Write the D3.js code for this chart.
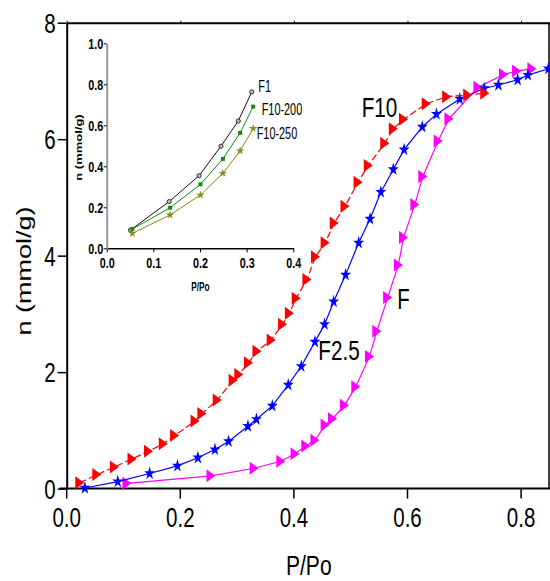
<!DOCTYPE html>
<html><head><meta charset="utf-8">
<script src="https://cdn.jsdelivr.net/npm/d3@7"></script>
<style>body{margin:0;background:#fff;} svg{display:block;}</style>
</head><body>
<svg id="c" width="550" height="581"></svg>
<script>
// ---- main chart data ----
const f10X  = [0.023,0.053,0.084,0.115,0.144,0.170,0.190,0.226,0.238,0.265,0.293,0.303,0.320,0.335,0.360,0.380,0.392,0.404,0.423,0.438,0.455,0.471,0.490,0.513,0.531,0.560,0.575,0.593,0.633,0.669,0.706,0.736];
const f10Y  = [0.10,0.24,0.37,0.51,0.64,0.77,0.91,1.16,1.29,1.52,1.86,1.96,2.16,2.36,2.55,2.82,3.01,3.27,3.59,3.98,4.22,4.56,4.85,5.26,5.55,5.93,6.18,6.34,6.61,6.73,6.76,6.79];
const f25X  = [0.032,0.090,0.146,0.195,0.231,0.261,0.285,0.319,0.334,0.362,0.390,0.413,0.437,0.454,0.470,0.491,0.514,0.534,0.553,0.575,0.594,0.626,0.651,0.692,0.735,0.760,0.794,0.812,0.848];
const f25Y  = [0.01,0.12,0.26,0.39,0.53,0.67,0.81,1.07,1.19,1.42,1.78,2.10,2.52,2.82,3.21,3.67,4.22,4.63,5.09,5.48,5.82,6.21,6.43,6.69,6.87,6.93,7.02,7.10,7.21];
const fX    = [0.106,0.254,0.330,0.377,0.402,0.421,0.437,0.455,0.468,0.489,0.509,0.533,0.546,0.565,0.584,0.593,0.613,0.627,0.654,0.673,0.724,0.769,0.792,0.819];
const fY    = [0.09,0.22,0.35,0.47,0.60,0.73,0.83,1.09,1.20,1.43,1.75,2.27,2.70,3.28,3.84,4.31,4.88,5.36,5.97,6.35,6.89,7.11,7.17,7.21];
const mainXTicks = [0.0,0.2,0.4,0.6,0.8];
const mainYTicks = [0,2,4,6,8];
const seriesNames = ["F10","F2.5","F"];

// ---- inset data ----
const insetX1   = [0.051,0.134,0.198,0.245,0.282,0.311];
const insetF1   = [0.089,0.228,0.354,0.498,0.621,0.763];
const insetX2   = [0.055,0.136,0.201,0.249,0.286,0.314];
const insetF200 = [0.094,0.198,0.312,0.436,0.563,0.691];
const insetF250 = [0.073,0.163,0.260,0.366,0.475,0.585];
const insetXTicks = [0.0,0.1,0.2,0.3,0.4];
const insetYTicks = [0.0,0.2,0.4,0.6,0.8,1.0];
const insetNames = ["F1","F10-200","F10-250"];

const svg = d3.select("#c");
const FONT = "'Liberation Sans', Arial, sans-serif";

// scales
const x = d3.scaleLinear().domain([0,0.85]).range([66.7,549.5]);
const y = d3.scaleLinear().domain([0,8]).range([488.6,22.7]);
const ix = d3.scaleLinear().domain([0,0.4]).range([106.7,293.3]);
const iy = d3.scaleLinear().domain([0,1]).range([248.3,43.3]);

function txt(x0,y0,s,size,sx,anchor,weight,rot){
  return svg.append("text")
    .attr("transform",`translate(${x0},${y0}) scale(${sx},1)` + (rot?` rotate(${rot})`:""))
    .attr("text-anchor",anchor||"start")
    .attr("font-family",FONT).attr("font-size",size)
    .attr("font-weight",weight||"normal").attr("fill","#000").text(s);
}

// ---- main axes ----
const gx = svg.append("g").attr("transform",`translate(0,${y(0)})`)
  .call(d3.axisBottom(x).tickValues(mainXTicks).tickFormat(d3.format(".1f")).tickSize(10).tickSizeOuter(0));
gx.select(".domain").attr("stroke-width",2).attr("d",`M59.6,0H550`);
gx.selectAll(".tick line").attr("stroke-width",1.5);
gx.selectAll(".tick text").attr("y",38).attr("dy",0).attr("transform","scale(0.76,1)")
  .attr("x",0).attr("font-family",FONT).attr("font-size",27).attr("fill","#000");
gx.selectAll(".tick").attr("transform",d=>`translate(${x(d)},0)`);

const gy = svg.append("g").attr("transform",`translate(${x(0)},0)`)
  .call(d3.axisLeft(y).tickValues(mainYTicks).tickFormat(d3.format("d")).tickSize(9).tickSizeOuter(0));
gy.select(".domain").attr("stroke-width",2);
gy.selectAll(".tick line").attr("stroke-width",1.5);
gy.selectAll(".tick text").attr("x",-11/0.76).attr("dy","0.36em").attr("transform","scale(0.76,1)")
  .attr("font-family",FONT).attr("font-size",27).attr("fill","#000");

// frame top/right
const gt = svg.append("g").attr("transform",`translate(0,${y(8)})`)
  .call(d3.axisTop(x).tickValues(mainXTicks).tickFormat("").tickSize(2).tickSizeOuter(0));
gt.select(".domain").attr("stroke-width",2);
svg.append("line").attr("x1",549).attr("x2",549).attr("y1",y(8)).attr("y2",y(0)).attr("stroke","#000").attr("stroke-width",1.5);

// axis titles
txt(308.8,574.7,"P/Po",27,0.78,"middle");
txt(31,271,"n (mmol/g)",27,0.76,"middle","normal",-90);

// markers
const triPath = "M-4.5,-6.5L4.5,0L-4.5,6.5Z";
const starPath = d3.symbol(d3.symbolStar, 55)();

function series(xs, ys, color, dash, shape, sc, name){
  const data = xs.map((v,i)=>[v,ys[i]]);
  const g = svg.append("g").attr("class","series").attr("data-name",name);
  g.append("path").datum(data)
    .attr("d", d3.line().x(d=>x(d[0])).y(d=>y(d[1])))
    .attr("fill","none").attr("stroke",color).attr("stroke-width",1.2)
    .attr("stroke-dasharray",dash);
  g.selectAll("path.m").data(data).join("path").attr("class","m")
    .attr("d",shape)
    .attr("transform",d=>`translate(${x(d[0])},${y(d[1])}) scale(${sc},1)`)
    .attr("fill",color).attr("stroke","none");
}
series(fX, fY, "#ff00ff", null, triPath, 1, seriesNames[2]);
series(f25X, f25Y, "#0000ff", null, starPath, 0.82, seriesNames[1]);
series(f10X, f10Y, "#ff0000", "7,3", triPath, 1, seriesNames[0]);

// series labels
txt(361.7,116.7,seriesNames[0],28,0.74,"start");
txt(318.3,360,seriesNames[1],28,0.74,"start");
txt(397.3,309.3,seriesNames[2],30,0.68,"start");

// ---- inset ----
const igx = svg.append("g").attr("transform",`translate(0,${iy(0)})`)
  .call(d3.axisBottom(ix).tickValues(insetXTicks).tickFormat(d3.format(".1f")).tickSize(4).tickSizeOuter(0));
igx.select(".domain").attr("stroke-width",1.5);
igx.selectAll(".tick text").attr("y",19.7).attr("dy",0).attr("transform","scale(0.72,1)").attr("x",0)
  .attr("font-family",FONT).attr("font-size",15).attr("font-weight","bold").attr("fill","#000");
const igy = svg.append("g").attr("transform",`translate(${ix(0)},0)`)
  .call(d3.axisLeft(iy).tickValues(insetYTicks).tickFormat(d3.format(".1f")).tickSize(3).tickSizeOuter(0));
igy.select(".domain").attr("stroke","#999").attr("stroke-width",2);
igy.selectAll(".tick text").attr("x",-3.5/0.72).attr("dy","0.36em").attr("transform","scale(0.72,1)")
  .attr("font-family",FONT).attr("font-size",15).attr("font-weight","bold").attr("fill","#000");

txt(200.3,290.7,"P/Po",12.5,0.66,"middle","bold");
txt(82,147.5,"n (mmol/g)",13,0.72,"middle","bold",-90);

function iseries(xs, ys, color, shape, fill, name){
  const data = xs.map((v,i)=>[v,ys[i]]);
  const g = svg.append("g").attr("class","inset-series").attr("data-name",name);
  g.append("path").datum(data)
    .attr("d", d3.line().x(d=>ix(d[0])).y(d=>iy(d[1])))
    .attr("fill","none").attr("stroke",color).attr("stroke-width",1);
  g.selectAll("path.m").data(data).join("path").attr("class","m")
    .attr("d",shape)
    .attr("transform",d=>`translate(${ix(d[0])},${iy(d[1])})`)
    .attr("fill",fill).attr("stroke",fill===color?"none":color).attr("stroke-width",0.8);
}
iseries(insetX1, insetF1, "#111", d3.symbol(d3.symbolCircle, 14)(), "#bbb", insetNames[0]);
iseries(insetX2, insetF200, "#118811", d3.symbol(d3.symbolSquare, 16)(), "#118811", insetNames[1]);
iseries(insetX2, insetF250, "#8c8a1a", d3.symbol(d3.symbolStar, 22)(), "#8c8a1a", insetNames[2]);

txt(258.3,91.7,insetNames[0],17,0.64,"start");
txt(261.7,115,insetNames[1],17,0.64,"start");
txt(256.7,139.3,insetNames[2],17,0.64,"start");
</script>
</body></html>
